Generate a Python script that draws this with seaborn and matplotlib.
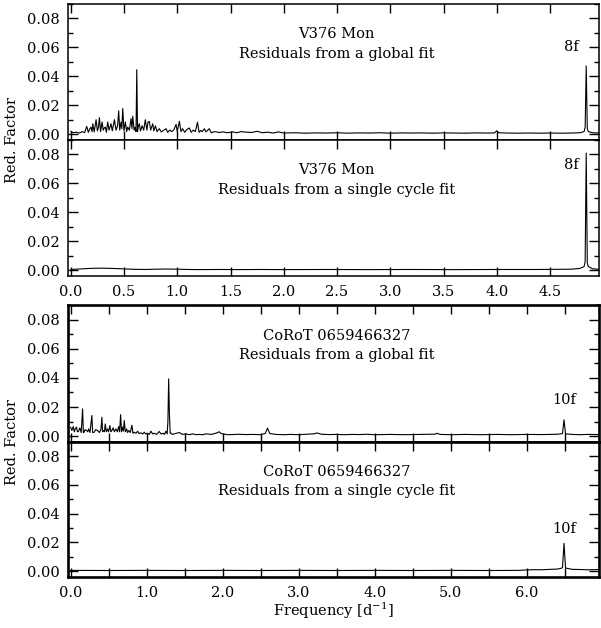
import matplotlib
matplotlib.use("Agg")
import matplotlib.pyplot as plt
from matplotlib.ticker import MultipleLocator, FormatStrFormatter
import seaborn as sns
import pandas as pd

# ---------------- data (frequency [1/d], reduction factor) ----------------
v376_global = [
    (0.00, 0.0023), (0.02, 0.0012), (0.05, 0.0016), (0.08, 0.0010), (0.11, 0.0020),
    (0.13, 0.0012), (0.15, 0.0056), (0.165, 0.0015), (0.18, 0.0040), (0.19, 0.0051),
    (0.20, 0.0020), (0.207, 0.0074), (0.22, 0.0018), (0.238, 0.0102), (0.25, 0.0025),
    (0.26, 0.0050), (0.269, 0.0116), (0.28, 0.0020), (0.294, 0.0086), (0.305, 0.0030),
    (0.315, 0.0045), (0.325, 0.0051), (0.335, 0.0015), (0.347, 0.0086), (0.36, 0.0030),
    (0.378, 0.0074), (0.39, 0.0025), (0.41, 0.0102), (0.425, 0.0030), (0.44, 0.0060),
    (0.45, 0.0163), (0.46, 0.0030), (0.472, 0.0086), (0.48, 0.0040), (0.488, 0.0179),
    (0.50, 0.0025), (0.513, 0.0086), (0.525, 0.0020), (0.535, 0.0051), (0.55, 0.0030),
    (0.566, 0.0109), (0.575, 0.0040), (0.582, 0.0126), (0.595, 0.0030), (0.605, 0.0050),
    (0.613, 0.0020), (0.62, 0.0447), (0.627, 0.0020), (0.635, 0.0060), (0.644, 0.0074),
    (0.655, 0.0025), (0.67, 0.0060), (0.685, 0.0030), (0.70, 0.0102), (0.715, 0.0030),
    (0.725, 0.0086), (0.738, 0.0090), (0.75, 0.0030), (0.77, 0.0074), (0.78, 0.0025),
    (0.795, 0.0060), (0.81, 0.0020), (0.832, 0.0040), (0.85, 0.0018), (0.87, 0.0028),
    (0.895, 0.0040), (0.91, 0.0015), (0.93, 0.0030), (0.95, 0.0020), (0.97, 0.0035),
    (0.989, 0.0070), (1.00, 0.0020), (1.02, 0.0091), (1.035, 0.0020), (1.05, 0.0040),
    (1.07, 0.0015), (1.09, 0.0035), (1.114, 0.0045), (1.13, 0.0015), (1.15, 0.0030),
    (1.17, 0.0020), (1.19, 0.0085), (1.205, 0.0015), (1.22, 0.0028), (1.235, 0.0020),
    (1.255, 0.0040), (1.27, 0.0018), (1.30, 0.0040), (1.32, 0.0012), (1.35, 0.0020),
    (1.395, 0.0014), (1.43, 0.0018), (1.47, 0.0012), (1.52, 0.0018), (1.56, 0.0012),
    (1.60, 0.0020), (1.646, 0.0016), (1.70, 0.0014), (1.75, 0.0022), (1.80, 0.0012),
    (1.85, 0.0016), (1.90, 0.0010), (1.95, 0.0018), (2.00, 0.0010), (2.10, 0.0012),
    (2.20, 0.0009), (2.30, 0.0011), (2.40, 0.0010), (2.50, 0.0012), (2.60, 0.0009),
    (2.70, 0.0011), (2.80, 0.0010), (2.90, 0.0012), (3.00, 0.0009), (3.10, 0.0011),
    (3.20, 0.0010), (3.30, 0.0011), (3.40, 0.0009), (3.50, 0.0011), (3.60, 0.0010),
    (3.70, 0.0009), (3.80, 0.0011), (3.90, 0.0010), (3.98, 0.0011), (4.00, 0.0026),
    (4.02, 0.0012), (4.10, 0.0010), (4.20, 0.0009), (4.30, 0.0010), (4.40, 0.0009),
    (4.50, 0.0010), (4.60, 0.0009), (4.70, 0.0010), (4.78, 0.0012), (4.82, 0.0020),
    (4.83, 0.0050), (4.84, 0.0473), (4.85, 0.0040), (4.86, 0.0020), (4.90, 0.0012),
    (4.96, 0.0010),
]

v376_single = [
    (0.00, 0.0005), (0.10, 0.0009), (0.20, 0.0013), (0.30, 0.0014), (0.40, 0.0012),
    (0.50, 0.0009), (0.60, 0.0006), (0.70, 0.0005), (0.80, 0.0007), (0.90, 0.0008),
    (1.00, 0.0007), (1.10, 0.0005), (1.20, 0.0004), (1.40, 0.0005), (1.60, 0.0004),
    (1.80, 0.0005), (2.00, 0.0004), (2.40, 0.0005), (2.80, 0.0004), (3.20, 0.0005),
    (3.60, 0.0004), (4.00, 0.0005), (4.40, 0.0005), (4.70, 0.0007), (4.78, 0.0012),
    (4.82, 0.0025), (4.83, 0.0060), (4.84, 0.0810), (4.85, 0.0050), (4.86, 0.0025),
    (4.90, 0.0010), (4.96, 0.0006),
]

corot_global = [
    (0.000, 0.0062), (0.017, 0.0039), (0.035, 0.0066), (0.050, 0.0030), (0.061, 0.0050),
    (0.079, 0.0062), (0.090, 0.0030), (0.105, 0.0034), (0.122, 0.0057), (0.140, 0.0025),
    (0.158, 0.0187), (0.168, 0.0025), (0.179, 0.0027), (0.190, 0.0045), (0.210, 0.0039),
    (0.225, 0.0030), (0.237, 0.0050), (0.255, 0.0025), (0.280, 0.0142), (0.290, 0.0025),
    (0.311, 0.0027), (0.330, 0.0045), (0.355, 0.0039), (0.380, 0.0025), (0.400, 0.0050),
    (0.412, 0.0130), (0.420, 0.0030), (0.430, 0.0039), (0.445, 0.0030), (0.456, 0.0084),
    (0.470, 0.0030), (0.487, 0.0050), (0.500, 0.0030), (0.517, 0.0073), (0.530, 0.0030),
    (0.543, 0.0039), (0.561, 0.0057), (0.575, 0.0030), (0.596, 0.0050), (0.615, 0.0030),
    (0.632, 0.0066), (0.645, 0.0030), (0.658, 0.0148), (0.670, 0.0030), (0.684, 0.0062),
    (0.695, 0.0035), (0.706, 0.0107), (0.720, 0.0030), (0.737, 0.0050), (0.750, 0.0025),
    (0.763, 0.0039), (0.785, 0.0025), (0.807, 0.0075), (0.820, 0.0020), (0.837, 0.0027),
    (0.860, 0.0020), (0.882, 0.0034), (0.900, 0.0018), (0.925, 0.0023), (0.950, 0.0015),
    (0.969, 0.0027), (0.990, 0.0015), (1.013, 0.0020), (1.035, 0.0012), (1.057, 0.0034),
    (1.080, 0.0015), (1.100, 0.0020), (1.130, 0.0012), (1.166, 0.0032), (1.190, 0.0015),
    (1.219, 0.0020), (1.235, 0.0012), (1.254, 0.0034), (1.270, 0.0015), (1.280, 0.0100),
    (1.290, 0.0393), (1.300, 0.0150), (1.310, 0.0020), (1.320, 0.0020), (1.340, 0.0012),
    (1.363, 0.0016), (1.430, 0.0025), (1.470, 0.0012), (1.517, 0.0016), (1.560, 0.0010),
    (1.605, 0.0016), (1.650, 0.0010), (1.690, 0.0012), (1.740, 0.0010), (1.780, 0.0016),
    (1.850, 0.0012), (1.910, 0.0020), (1.955, 0.0030), (1.980, 0.0018), (2.000, 0.0016),
    (2.060, 0.0010), (2.130, 0.0011), (2.200, 0.0013), (2.306, 0.0011), (2.400, 0.0012),
    (2.500, 0.0010), (2.560, 0.0018), (2.590, 0.0055), (2.620, 0.0018), (2.700, 0.0012),
    (2.800, 0.0010), (2.900, 0.0012), (3.000, 0.0010), (3.100, 0.0013), (3.200, 0.0016),
    (3.240, 0.0022), (3.300, 0.0013), (3.400, 0.0011), (3.500, 0.0012), (3.600, 0.0010),
    (3.700, 0.0012), (3.800, 0.0011), (3.900, 0.0013), (4.000, 0.0010), (4.200, 0.0012),
    (4.400, 0.0010), (4.600, 0.0012), (4.800, 0.0014), (4.820, 0.0020), (4.860, 0.0012),
    (5.000, 0.0010), (5.200, 0.0012), (5.400, 0.0010), (5.600, 0.0012), (5.800, 0.0010),
    (6.000, 0.0012), (6.200, 0.0011), (6.400, 0.0013), (6.470, 0.0018), (6.490, 0.0112),
    (6.510, 0.0016), (6.600, 0.0012), (6.700, 0.0010), (6.800, 0.0012), (6.950, 0.0011),
]

corot_single = [
    (0.00, 0.0006), (0.50, 0.0005), (1.00, 0.0006), (1.50, 0.0005), (2.00, 0.0006),
    (2.50, 0.0005), (3.00, 0.0006), (3.50, 0.0005), (4.00, 0.0006), (4.50, 0.0005),
    (5.00, 0.0006), (5.50, 0.0005), (5.90, 0.0006), (6.00, 0.0009), (6.10, 0.0011),
    (6.20, 0.0010), (6.30, 0.0013), (6.40, 0.0015), (6.45, 0.0020), (6.47, 0.0025),
    (6.49, 0.0194), (6.51, 0.0022), (6.55, 0.0018), (6.60, 0.0013), (6.70, 0.0012),
    (6.80, 0.0010), (6.95, 0.0012),
]

star_names = ["V376 Mon", "V376 Mon", "CoRoT 0659466327", "CoRoT 0659466327"]
fit_labels = ["Residuals from a global fit", "Residuals from a single cycle fit",
              "Residuals from a global fit", "Residuals from a single cycle fit"]
harm_labels = ["8f", "8f", "10f", "10f"]
harm_pos = [(4.70, 0.0600), (4.70, 0.0729), (6.49, 0.0245), (6.49, 0.0290)]

# ---------------- style ----------------
sns.set_style("ticks")
plt.rcParams["font.family"] = ["DejaVu Serif"]
plt.rcParams["mathtext.fontset"] = "dejavuserif"
for key in ("text.color", "axes.edgecolor", "axes.labelcolor", "xtick.color", "ytick.color"):
    plt.rcParams[key] = "black"
FS = 10.5

W, H = 601, 628
fig = plt.figure(figsize=(W / 100, H / 100), dpi=100)


def px_axes(left, top, right, bottom):
    return fig.add_axes([left / W, 1 - bottom / H, (right - left) / W, (bottom - top) / H])


panels = [
    (px_axes(68.3, 4, 599, 140), v376_global, (-0.023, 4.96), 1.1),
    (px_axes(68.3, 140, 599, 275.7), v376_single, (-0.023, 4.96), 1.1),
    (px_axes(68.3, 305, 599, 441.7), corot_global, (-0.03, 6.95), 1.9),
    (px_axes(68.3, 441.7, 599, 576.7), corot_single, (-0.03, 6.95), 1.9),
]

for i, (ax, series, xlim, slw) in enumerate(panels):
    df = pd.DataFrame(series, columns=["freq", "amp"])
    sns.lineplot(data=df, x="freq", y="amp", ax=ax, color="black", lw=0.8,
                 estimator=None, sort=True)
    ax.set_xlim(*xlim)
    ax.set_ylim(-0.0038, 0.0900)
    ax.set_xlabel("")
    ax.set_ylabel("")
    for sp in ax.spines.values():
        sp.set_visible(True)
        sp.set_linewidth(slw)
        sp.set_color("black")
    ax.yaxis.set_major_locator(MultipleLocator(0.02))
    ax.yaxis.set_minor_locator(MultipleLocator(0.01))
    ax.yaxis.set_major_formatter(FormatStrFormatter("%.2f"))
    if i < 2:
        ax.xaxis.set_major_locator(MultipleLocator(0.5))
        ax.xaxis.set_major_formatter(FormatStrFormatter("%.1f"))
    else:
        ax.xaxis.set_major_locator(MultipleLocator(1.0))
        ax.xaxis.set_minor_locator(MultipleLocator(0.5))
        ax.xaxis.set_major_formatter(FormatStrFormatter("%.1f"))
    ax.tick_params(which="both", direction="in", top=True, right=True,
                   labelsize=FS, color="black", labelcolor="black", width=1.0)
    ax.tick_params(axis="y", which="major", length=7, pad=6)
    ax.tick_params(axis="y", which="minor", length=3.5)
    ax.tick_params(axis="x", which="both", length=6.5, pad=7)
    if i in (0, 2):
        ax.tick_params(axis="x", labelbottom=False)

    ax.text(0.505, 0.0690, star_names[i], transform=ax.get_yaxis_transform(),
            ha="center", va="center", fontsize=FS, color="black")
    ax.text(0.505, 0.0555, fit_labels[i], transform=ax.get_yaxis_transform(),
            ha="center", va="center", fontsize=FS, color="black")
    hx, hy = harm_pos[i]
    ax.text(hx, hy, harm_labels[i], ha="center", va="center", fontsize=FS, color="black")

fig.text(12 / W, 1 - 140 / H, "Red. Factor", rotation=90, ha="center", va="center",
         fontsize=FS, color="black")
fig.text(12 / W, 1 - 441.7 / H, "Red. Factor", rotation=90, ha="center", va="center",
         fontsize=FS, color="black")
fig.text(333.6 / W, 1 - 611 / H, r"Frequency [d$^{-1}$]", ha="center", va="center",
         fontsize=FS, color="black")

fig.savefig("out.png", dpi=100)
